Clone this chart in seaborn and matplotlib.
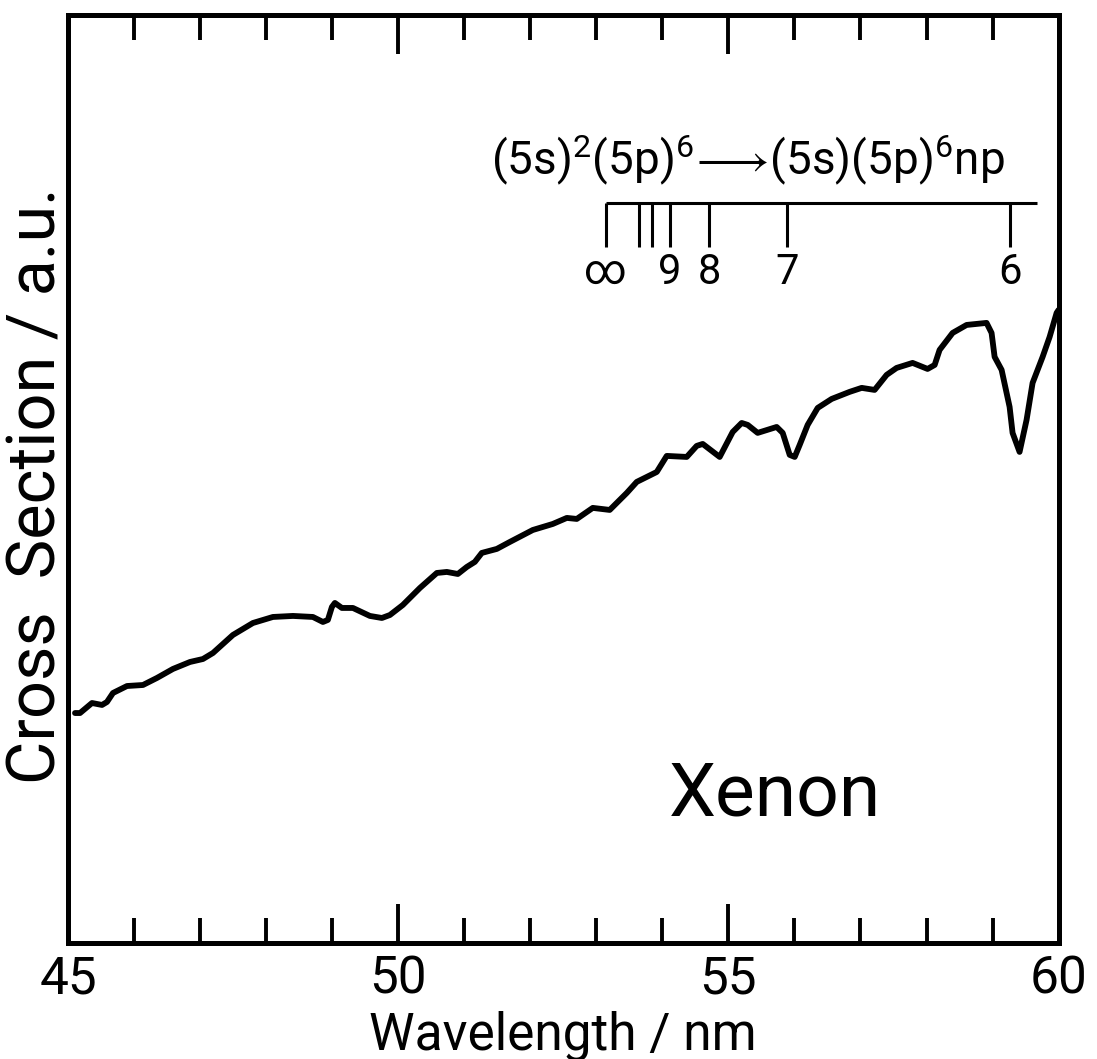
import numpy as np
import pandas as pd
import matplotlib
matplotlib.use("Agg")
import matplotlib.pyplot as plt
import seaborn as sns

# ---- data ----
wavelength = [45.106, 45.182, 45.363, 45.515, 45.590, 45.681, 45.893, 46.135, 46.347, 46.589,
              46.847, 47.043, 47.195, 47.497, 47.800, 48.103, 48.406, 48.708, 48.860, 48.935,
              48.996, 49.041, 49.147, 49.314, 49.571, 49.753, 49.874, 50.070, 50.328, 50.585,
              50.736, 50.903, 51.039, 51.160, 51.266, 51.493, 51.690, 52.038, 52.341, 52.553,
              52.704, 52.946, 53.203, 53.355, 53.461, 53.612, 53.915, 54.066, 54.369, 54.520,
              54.611, 54.868, 55.065, 55.201, 55.292, 55.443, 55.731, 55.822, 55.928, 56.004,
              56.079, 56.200, 56.352, 56.564, 56.836, 57.018, 57.214, 57.396, 57.547, 57.789,
              58.016, 58.123, 58.198, 58.395, 58.607, 58.909, 58.985, 59.031, 59.137, 59.258,
              59.303, 59.409, 59.515, 59.606, 59.758, 59.864, 59.970, 60.0]
cross_section = [24.78, 24.78, 25.86, 25.65, 25.97, 26.94, 27.69, 27.80, 28.56, 29.53,
                 30.28, 30.60, 31.25, 33.19, 34.48, 35.13, 35.24, 35.13, 34.59, 34.81,
                 36.21, 36.64, 36.10, 36.10, 35.24, 35.02, 35.34, 36.42, 38.25, 39.87,
                 39.98, 39.76, 40.52, 41.06, 42.03, 42.46, 43.21, 44.50, 45.15, 45.80,
                 45.69, 46.88, 46.66, 47.74, 48.49, 49.68, 50.75, 52.48, 52.37, 53.56,
                 53.77, 52.37, 55.06, 56.03, 55.82, 54.96, 55.60, 54.96, 52.59, 52.37,
                 53.66, 55.82, 57.65, 58.62, 59.38, 59.81, 59.59, 61.21, 61.96, 62.50,
                 61.85, 62.28, 63.90, 65.73, 66.59, 66.81, 65.73, 63.15, 61.75, 57.76,
                 54.96, 52.91, 56.36, 60.34, 63.15, 65.30, 67.89, 68.21]

# Rydberg series (5s)(5p)^6 np levels
level_labels = ["\u221e", "", "", "9", "8", "7", "6"]
level_positions = [53.14, 53.65, 53.85, 54.11, 54.71, 55.89, 59.27]
level_line_end = 59.68

xticks_major = [45, 50, 55, 60]
xtick_labels = ["45", "50", "55", "60"]
xticks_minor = [46, 47, 48, 49, 51, 52, 53, 54, 56, 57, 58, 59]

df = pd.DataFrame({"Wavelength": wavelength, "Cross": cross_section})

sns.set_theme(style="ticks")
plt.rcParams["font.family"] = ["Roboto", "DejaVu Sans"]
plt.rcParams["mathtext.fontset"] = "custom"
plt.rcParams["mathtext.rm"] = "Roboto"
plt.rcParams["mathtext.it"] = "Roboto"
plt.rcParams["text.color"] = "black"
plt.rcParams["axes.labelcolor"] = "black"

fig = plt.figure(figsize=(10.97, 10.59), dpi=100)
ax = fig.add_axes([0.062, 0.1095, 0.903, 0.8765])

sns.lineplot(data=df, x="Wavelength", y="Cross", ax=ax, color="black",
             linewidth=4.2, sort=False, estimator=None)

ax.set_xlim(45, 60)
ax.set_ylim(0, 100)

for s in ax.spines.values():
    s.set_linewidth(3.6)
    s.set_color("black")

ax.set_xticks(xticks_major)
ax.set_xticklabels(xtick_labels)
ax.set_xticks(xticks_minor, minor=True)
ax.set_yticks([])
ax.tick_params(axis="x", which="major", direction="in", length=28, width=2.8,
               top=True, bottom=True, labelsize=37, pad=8, colors="black")
ax.tick_params(axis="x", which="minor", direction="in", length=18, width=2.8,
               top=True, bottom=True, colors="black")

ax.set_xlabel("Wavelength / nm", fontsize=37)
ax.xaxis.set_label_coords(0.5, -0.1)
ax.xaxis.label.set_va("center")
ax.set_ylabel("Cross  Section / a.u.", fontsize=48)
ax.yaxis.set_label_coords(-0.031, 0.493)
ax.yaxis.label.set_va("center")

# level diagram
ax.hlines(79.7, level_positions[0], level_line_end, color="black", linewidth=2.2)
ax.vlines(level_positions, 75.0, 79.7, color="black", linewidth=2.2)
for pos, lab in zip(level_positions, level_labels):
    if lab:
        ax.text(pos, 72.2, lab, ha="center", va="center", fontsize=30)

ax.text(55.3, 84.4, r"$\mathregular{(5s)^2(5p)^6\!\longrightarrow\!(5s)(5p)^6np}$",
        ha="center", va="center", fontsize=33)

ax.text(55.7, 15.9, "Xenon", ha="center", va="center", fontsize=54, fontweight="normal")

fig.savefig("out.png", dpi=100, facecolor="white")
